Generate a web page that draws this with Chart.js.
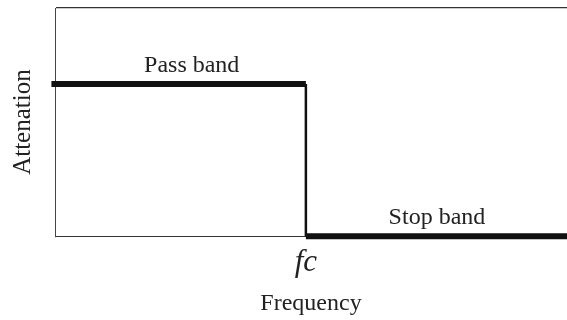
<!DOCTYPE html>
<html lang="en">
<head>
    <meta charset="UTF-8">
    <title>Pass band / Stop band</title>
    <script src="https://cdn.jsdelivr.net/npm/chart.js"></script>
    <style>
        body { margin: 0; background: #fff; }
    </style>
</head>
<body>
    <canvas id="chart" width="567" height="320"></canvas>

    <script>
        // frequency axis runs 0..100, attenuation axis 0..3
        const cutoff = 49;
        const passBand = [{ x: -0.7, y: 2 }, { x: cutoff, y: 2 }];
        const edge = [{ x: cutoff, y: 2 }, { x: cutoff, y: 0 }];
        const stopBand = [{ x: cutoff, y: 0 }, { x: 100, y: 0 }];

        const bandNames = ['Pass band', 'Stop band'];
        const bandNameX = [26.7, 74.6];
        const bandNameY = [2, 0];

        const serif = 'Liberation Serif';

        // writes the band names just above their lines
        const bandLabels = {
            id: 'bandLabels',
            afterDatasetsDraw(chart) {
                const ctx = chart.ctx;
                const xs = chart.scales.x, ys = chart.scales.y;
                ctx.save();
                ctx.font = '24px "' + serif + '"';
                ctx.fillStyle = '#222';
                ctx.textAlign = 'center';
                ctx.textBaseline = 'alphabetic';
                bandNames.forEach((name, i) => {
                    ctx.fillText(name, xs.getPixelForValue(bandNameX[i]), ys.getPixelForValue(bandNameY[i]) - 12.5);
                });
                ctx.restore();
            }
        };

        const thick = { borderColor: '#111', borderWidth: 6, pointRadius: 0, clip: false, borderCapStyle: 'butt' };

        new Chart(document.getElementById('chart').getContext('2d'), {
            type: 'line',
            data: {
                datasets: [
                    { ...thick, data: passBand },
                    { ...thick, data: edge, borderWidth: 2.5 },
                    { ...thick, data: stopBand }
                ]
            },
            options: {
                responsive: false,
                animation: false,
                layout: { padding: { top: 8, left: 0, right: 0, bottom: 0 } },
                plugins: { legend: { display: false }, tooltip: { enabled: false } },
                scales: {
                    x: {
                        type: 'linear',
                        min: 0,
                        max: 100,
                        grid: { display: false, drawTicks: false },
                        border: { display: true, color: '#333', width: 1 },
                        afterBuildTicks: axis => { axis.ticks = [{ value: cutoff }]; },
                        ticks: {
                            padding: 9,
                            color: '#222',
                            font: { family: serif, size: 31, style: 'italic', lineHeight: 1.13 },
                            callback: () => 'fc'
                        },
                        title: {
                            display: true,
                            text: 'Frequency',
                            color: '#222',
                            font: { family: serif, size: 24 },
                            padding: { top: 0, bottom: 2 }
                        }
                    },
                    y: {
                        min: 0,
                        max: 3,
                        // only the line at the top value is shown, closing the box
                        grid: {
                            drawTicks: false,
                            lineWidth: 1.2,
                            color: c => (c.tick && c.tick.value === 3 ? '#333' : 'rgba(0,0,0,0)')
                        },
                        border: { display: true, color: '#444', width: 1 },
                        ticks: { display: false },
                        title: {
                            display: true,
                            text: 'Attenation',
                            color: '#222',
                            font: { family: serif, size: 25 },
                            padding: { top: 8, bottom: 17 }
                        }
                    }
                }
            },
            plugins: [bandLabels]
        });
    </script>
</body>
</html>
